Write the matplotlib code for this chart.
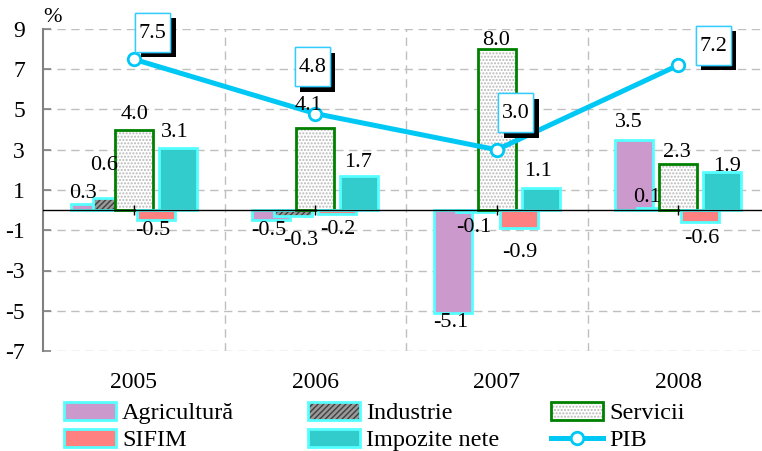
import matplotlib.pyplot as plt
import matplotlib.patheffects as pe
import matplotlib.transforms as mtransforms
from matplotlib.patches import Rectangle
import numpy as np

years = ['2005', '2006', '2007', '2008']
agricultura = [0.3, -0.5, -5.1, 3.5]
industrie = [0.6, -0.3, -0.1, 0.1]
servicii = [4.0, 4.1, 8.0, 2.3]
sifim = [-0.5, -0.2, -0.9, -0.6]
impozite = [3.1, 1.7, 1.1, 1.9]
pib = [7.5, 4.8, 3.0, 7.2]

plt.rcParams['font.family'] = ['Liberation Serif', 'DejaVu Serif']
plt.rcParams['hatch.linewidth'] = 1.0
plt.rcParams['axes.unicode_minus'] = False

fig = plt.figure(figsize=(7.62, 4.51), dpi=100)
ax = fig.add_axes([43/762, 100/451, 719/762, 322/451])
x = np.arange(len(years))
w = 0.209
step = 0.121
cyan = '#55FFFF'
blue = '#00C8F5'

ax.set_ylim(-7, 9)
ax.set_xlim(-0.5, -0.5 + 719/181.5)
ax.set_yticks(range(-7, 10, 2))
ax.yaxis.grid(True, color='#BFBFBF', ls=(0, (6, 4)), lw=1)
for b in [0.5, 1.5, 2.5]:
    ax.axvline(b, color='#BFBFBF', ls=(0, (6, 4)), lw=1, zorder=0.5)
ax.set_axisbelow(True)

# bars
b_agr = ax.bar(x-2*step, agricultura, w, color='#CC99CC', edgecolor=cyan, lw=2, zorder=2)
b_ind1 = ax.bar(x-step, industrie, w, color='#999999', edgecolor='#404040', hatch='//////', lw=0, zorder=3)
b_ind2 = ax.bar(x-step, industrie, w, fill=False, edgecolor=cyan, lw=2, zorder=3)
b_ser1 = ax.bar(x, servicii, w, color='white', edgecolor='#B8B8B8', hatch='.....', lw=0, zorder=4)
b_ser2 = ax.bar(x, servicii, w, fill=False, edgecolor='#008000', lw=2, zorder=4)
b_sif = ax.bar(x+step, sifim, w, color='#FF8080', edgecolor=cyan, lw=2, zorder=5)
b_imp = ax.bar(x+2*step, impozite, w, color='#33CCCC', edgecolor=cyan, lw=2, zorder=6)

ax.axhline(0, color='black', lw=1, zorder=7)
ax.plot(x, [0]*len(x), ls='none', marker='|', ms=7, mew=1, color='black', zorder=7)

ln, = ax.plot(x, pib, color=blue, lw=3.6, marker='o', ms=9, mfc='white', mec=blue, mew=2, zorder=8)

# bar value labels, offsets in pixels from bar end
series = [(agricultura, -2*step, [(-7, 11), (-3, -10), (-2, -10), (-6, 17)]),
          (industrie, -step, [(-8, 33), (7, -24), (-1, -15), (-9, 11)]),
          (servicii, 0, [(1, 15), (-7, 22), (-1, 9), (-1, 11)]),
          (sifim, step, [(-3, -10), (1, -15), (1, -24), (2, -16)]),
          (impozite, 2*step, [(-3, 15), (-1, 13), (-3, 16), (5, 5)])]
for vals, off, offs in series:
    for i, v in enumerate(vals):
        ax.annotate(f'{v:.1f}', (x[i]+off, v), xytext=offs[i], textcoords='offset pixels',
                    ha='center', va='center', fontsize=16, zorder=9)

# PIB labels in boxes with shadow
pib_offs = [(19, 27), (-3, 47), (19, 37), (35, 20)]
for i, v in enumerate(pib):
    dx, dy = pib_offs[i]
    tr = fig.dpi_scale_trans + mtransforms.ScaledTranslation(x[i], v, ax.transData)
    r = Rectangle(((dx-17.5)/100, (dy-19.5)/100), 0.35, 0.39, transform=tr, fc='white',
                  ec='#33CCFF', lw=1, zorder=10, clip_on=False)
    r.set_path_effects([pe.withSimplePatchShadow(offset=(4, -4), shadow_rgbFace='black', alpha=1),
                        pe.Normal()])
    ax.add_patch(r)
    ax.annotate(f'{v:.1f}', (x[i], v), xytext=(dx, dy-1), textcoords='offset pixels',
                ha='center', va='center', fontsize=16, zorder=11)

for s in ['top', 'right', 'bottom']:
    ax.spines[s].set_visible(False)
ax.spines['left'].set_color('#808080')
ax.spines['left'].set_linewidth(1.5)
ax.tick_params(axis='y', direction='in', length=6, width=1.2, color='#808080', pad=13, labelsize=17)
ax.set_xticks(x, years)
ax.tick_params(axis='x', length=0, pad=15, labelsize=17)

fig.text(52/762, 1-17/451, '%', ha='center', va='center', fontsize=16)

# legend, three columns
cols = [([b_agr[0], b_sif[0]], ['Agricultură', 'SIFIM'], 64),
        ([(b_ind1[0], b_ind2[0]), b_imp[0]], ['Industrie', 'Impozite nete'], 308),
        ([(b_ser1[0], b_ser2[0]), ln], ['Servicii', 'PIB'], 551)]
for hs, ls, px in cols:
    fig.legend(hs, ls, loc='upper left', bbox_to_anchor=(px/762, 1-402/451), frameon=False,
               fontsize=17.5, borderpad=0, borderaxespad=0, handlelength=2.14, handleheight=0.74,
               handletextpad=0.25, labelspacing=0.2)

fig.savefig('out.png', dpi=100)
